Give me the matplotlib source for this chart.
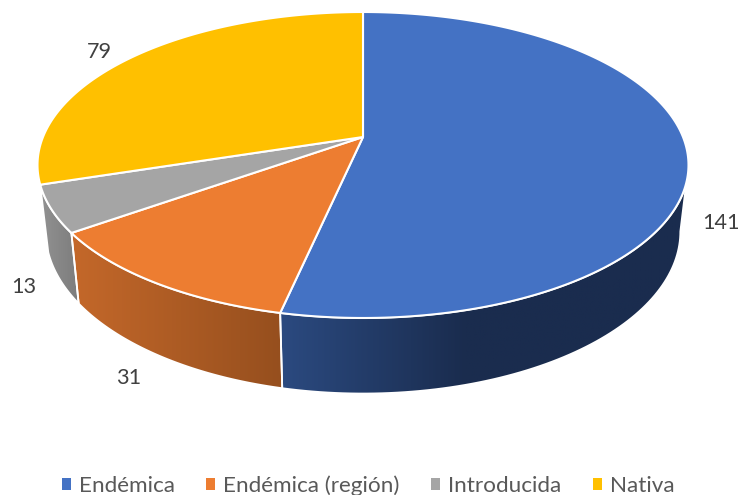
import numpy as np
import matplotlib.pyplot as plt
from matplotlib.patches import Polygon, Patch

categorias = ['Endémica', 'Endémica (región)', 'Introducida', 'Nativa']
valores = [141, 31, 13, 79]
colores = ['#4472C4', '#ED7D31', '#A5A5A5', '#FFC000']
# degradado de las paredes laterales (izquierda, derecha)
paredes = [('#2B4A80', '#1A2C4E'), ('#C4682A', '#964F1E'), ('#929292', '#7C7C7C')]
desplaz_etiquetas = [(33, 70), (-26, 95), (-28, 78), (-30, -6)]

plt.rcParams['font.family'] = ['Lato', 'DejaVu Sans']


def tapa(ang):
    # circulo en perspectiva: el centro cae en (363, 137)
    t = np.radians(ang)
    w = 1 + 0.183 * np.cos(t)
    x = 363 + 320 * np.sin(t) / w
    y = (137 - 122.8 * np.cos(t)) / w
    return x, y


def base(ang):
    x, y = tapa(ang)
    return 363 + 0.975 * (x - 363), 1.059 * y + 56.8


fig = plt.figure(figsize=(7.39, 4.95), dpi=100)
ax = fig.add_axes([0, 0, 1, 1])
ax.set_xlim(0, 739)
ax.set_ylim(495, 0)
ax.axis('off')

total = sum(valores)
bordes = np.cumsum([0] + valores) / total * 360

# paredes
for i, (c1, c2) in enumerate(paredes):
    a1, a2 = max(bordes[i], 100.5), bordes[i + 1]
    angs = np.linspace(a1, a2, 80)
    xt, yt = tapa(angs)
    xb, yb = base(angs)
    pts = np.vstack([np.column_stack([xt, yt]), np.column_stack([xb, yb])[::-1]])
    poli = Polygon(pts, closed=True, fc='none', ec='none', zorder=2)
    ax.add_patch(poli)
    rgb1 = np.array(plt.matplotlib.colors.to_rgb(c1))
    rgb2 = np.array(plt.matplotlib.colors.to_rgb(c2))
    s = np.linspace(0, 1, 256)[None, :, None]
    if i == 0:
        s = np.clip(s * 2.2, 0, 1)
    img = rgb1 + (rgb2 - rgb1) * s
    im = ax.imshow(img, extent=(pts[:, 0].min(), pts[:, 0].max(), pts[:, 1].max(), pts[:, 1].min()),
                   aspect='auto', zorder=2)
    im.set_clip_path(poli)
    ax.add_patch(Polygon(pts, closed=True, fc='none', ec='white', lw=1.3, zorder=3, joinstyle='round'))

ax.set_xlim(0, 739)
ax.set_ylim(495, 0)

# tapa superior
for i in range(len(valores)):
    angs = np.linspace(bordes[i], bordes[i + 1], 200)
    xt, yt = tapa(angs)
    pts = np.vstack([[tapa(0)[0], 137], np.column_stack([xt, yt])])
    ax.add_patch(Polygon(pts, closed=True, fc=colores[i], ec='white', lw=1.5, zorder=4, joinstyle='round'))

# etiquetas de datos
for i, v in enumerate(valores):
    x, y = tapa((bordes[i] + bordes[i + 1]) / 2)
    dx, dy = desplaz_etiquetas[i]
    ax.text(x + dx, y + dy, str(v), fontsize=15.6, color='#404040', ha='center', va='center', zorder=5)

handles = [Patch(fc=c, ec='none') for c in colores]
ax.legend(handles, categorias, loc='lower center', bbox_to_anchor=(0.498, -0.034), ncol=4, frameon=False,
          fontsize=16.2, labelcolor='#595959', handlelength=0.4, handleheight=0.4,
          handletextpad=0.35, columnspacing=1.4, borderpad=0.2)

fig.savefig('out.png', dpi=100)
